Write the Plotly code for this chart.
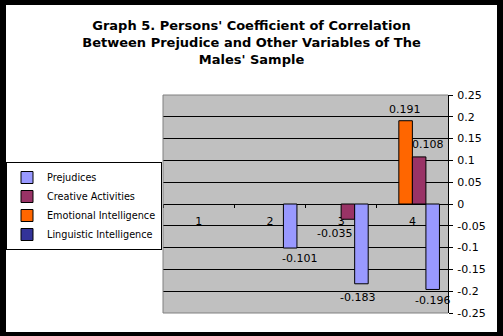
import plotly.graph_objects as go

# ---- data ----
categories = ["1", "2", "3", "4"]
prejudices = [None, -0.101, -0.183, -0.196]
creative_activities = [None, None, -0.035, 0.108]
emotional_intelligence = [None, None, None, 0.191]
linguistic_intelligence = [None, None, None, None]

series_names = ["Linguistic Intelligence", "Emotional Intelligence",
                "Creative Activities", "Prejudices"]
series_values = [linguistic_intelligence, emotional_intelligence,
                 creative_activities, prejudices]
series_colors = ["#333399", "#FF6600", "#993366", "#9999FF"]

y_tick_values = [0.25, 0.2, 0.15, 0.1, 0.05, 0, -0.05, -0.1, -0.15, -0.2, -0.25]
y_tick_labels = ["0.25", "0.2", "0.15", "0.1", "0.05", "0",
                 "-0.05", "-0.1", "-0.15", "-0.2", "-0.25"]

title_text = ("Graph 5. Persons' Coefficient of Correlation<br>"
              "Between Prejudice and Other Variables of The<br>"
              "Males' Sample")

# data-label nudges in pixels (style only): (series, category) -> (dx, dy)
label_nudge = {
    ("Prejudices", "2"): (30, -10),
    ("Prejudices", "3"): (16, -14),
    ("Prejudices", "4"): (20, -11),
    ("Creative Activities", "3"): (-7, -14),
    ("Creative Activities", "4"): (16, 12),
    ("Emotional Intelligence", "4"): (-7, 11),
}

FONT = "DejaVu Sans"

fig = go.Figure()
for name, vals, col in zip(series_names, series_values, series_colors):
    fig.add_trace(go.Bar(
        x=categories, y=vals, name=name,
        marker=dict(color=col, line=dict(color="black", width=1)),
        cliponaxis=False,
    ))

annotations = []
for name, vals in zip(series_names, series_values):
    for i, (cat, v) in enumerate(zip(categories, vals)):
        if v is None:
            continue
        dx, dy = label_nudge.get((name, cat), (0, 10 if v >= 0 else -10))
        annotations.append(dict(
            x=i, y=v, xref="x", yref="y", text=f"{v:.3f}",
            showarrow=False, xanchor="center", yanchor="middle",
            xshift=dx, yshift=dy,
            font=dict(family=FONT, size=11, color="black")))

# plot area in pixels: x 163..448, y 95..313
W, H = 503, 336
L, R, T, B = 163, 55, 95, 23
pw, ph = W - L - R, H - T - B

def px_x(x):
    return (x - L) / pw

def px_y(y):
    return (H - B - y) / ph

frame = [  # black picture frame: (x0, x1, y0, y1) in pixels
    (-20, 6, -20, H + 20),
    (497, W + 20, -20, H + 20),
    (-20, W + 20, -20, 5),
    (-20, W + 20, 332, H + 20),
]
shapes = [dict(type="rect", xref="paper", yref="paper", layer="above",
               x0=px_x(a), x1=px_x(b), y0=px_y(d), y1=px_y(c),
               fillcolor="black", line=dict(width=0)) for a, b, c, d in frame]
shapes.append(dict(type="path", xref="paper", yref="paper", layer="above",
                   path="M 1,1 L 0,1 L 0,0 L 1,0",
                   line=dict(color="#808080", width=1)))

fig.update_layout(
    width=W, height=H,
    margin=dict(l=L, r=R, t=T, b=B, pad=0, autoexpand=False),
    paper_bgcolor="white",
    plot_bgcolor="#C0C0C0",
    barmode="group", bargap=0.24, bargroupgap=0,
    font=dict(family=FONT, size=11, color="black"),
    title=dict(text=title_text, x=0.5, xref="container", xanchor="center",
               y=1 - 30 / H, yref="container", yanchor="top",
               font=dict(family=FONT, size=13, weight="bold", color="black")),
    legend=dict(x=px_x(6), y=px_y(162), xanchor="left", yanchor="top",
                traceorder="reversed", bgcolor="white",
                bordercolor="black", borderwidth=1,
                font=dict(family=FONT, size=9.7, color="black")),
    xaxis=dict(type="category", categoryorder="array", categoryarray=categories,
               range=[-0.5, len(categories) - 0.5], autorange=False,
               anchor="free", position=0.5,
               showline=True, linecolor="black", linewidth=1,
               ticks="outside", tickson="boundaries", ticklen=3,
               tickcolor="black", showgrid=False, layer="below traces",
               ticklabelstandoff=7,
               tickfont=dict(family=FONT, size=11, color="black")),
    yaxis=dict(side="right", range=[-0.25, 0.25], autorange=False,
               tickvals=y_tick_values, ticktext=y_tick_labels,
               showline=True, linecolor="black", linewidth=1,
               ticks="outside", ticklen=4, tickcolor="black",
               ticklabelstandoff=2,
               showgrid=True, gridcolor="black", gridwidth=1,
               zeroline=True, zerolinecolor="black", zerolinewidth=1,
               tickfont=dict(family=FONT, size=11, color="black")),
    shapes=shapes,
    annotations=annotations,
)

fig.write_html("out.html")
